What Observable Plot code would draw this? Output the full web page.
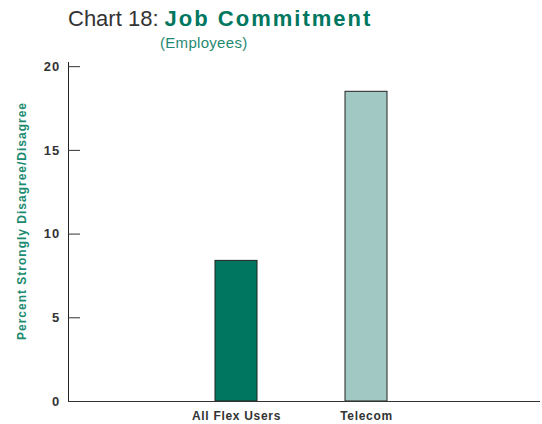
<!DOCTYPE html>
<html>
<head>
<meta charset="utf-8">
<script src="https://cdn.jsdelivr.net/npm/d3@7"></script>
<script src="https://cdn.jsdelivr.net/npm/@observablehq/plot@0.6"></script>
<style>
  body { margin: 0; background: #fff; font-family: "Liberation Sans", Arial, sans-serif; }
  #wrap { position: relative; width: 542px; height: 424px; }
  #title { position: absolute; left: 68px; top: 6px; font-size: 22px; color: #333; white-space: nowrap; }
  #title b { color: #00775f; letter-spacing: 2px; }
  #subtitle { position: absolute; left: 160px; top: 34px; font-size: 15px; color: #1f8a72; letter-spacing: 0.3px; white-space: nowrap; }
  #chart { position: absolute; left: 0; top: 56px; }
  g[aria-label="y-axis tick label"] text { letter-spacing: 1.2px; }
  g[aria-label="x-axis tick label"] text { letter-spacing: 0.7px; }
  g[aria-label="text"] text { letter-spacing: 1px; }
</style>
</head>
<body>
<div id="wrap">
  <div id="title">Chart 18: <b>Job Commitment</b></div>
  <div id="subtitle">(Employees)</div>
  <div id="chart"></div>
</div>
<script>
const categories = ["All Flex Users", "Telecom"];
const values = [8.4, 18.5];
const barColors = ["#00755f", "#a1c8c2"];
const yTicks = [0, 5, 10, 15, 20];
const yLabel = "Percent Strongly Disagree/Disagree";

const data = categories.map((c, i) => ({category: c, value: values[i]}));

const chart = Plot.plot({
  width: 542,
  height: 368,
  marginTop: 6,
  marginBottom: 23,
  marginLeft: 68,
  marginRight: 2,
  style: {fontFamily: "'Liberation Sans', Arial, sans-serif", color: "#333", background: "#fff"},
  x: {domain: categories, range: [125, 476], padding: 0.68, axis: null},
  y: {domain: [0, 20.25], axis: null},
  color: {domain: categories, range: barColors},
  marks: [
    Plot.barY(data, {x: "category", y: "value", fill: "category", stroke: "#222", strokeWidth: 1}),
    Plot.frame({anchor: "left", stroke: "#222"}),
    Plot.ruleY([0], {stroke: "#333"}),
    Plot.axisY(yTicks, {tickSize: 12, dx: 12, tickFormat: () => "", stroke: "#333", label: null}),
    Plot.axisY(yTicks, {tickSize: 0, tickPadding: 8, fontSize: 13, fontWeight: "bold", fill: "#333", label: null}),
    Plot.axisX({tickSize: 0, tickPadding: 10, fontSize: 12, fontWeight: "bold", fill: "#333", label: null}),
    Plot.text([yLabel], {text: d => d, frameAnchor: "left", rotate: -90, dx: -46, dy: -11, fontSize: 12, fontWeight: "bold", fill: "#1a8a70", textAnchor: "middle"})
  ]
});
document.getElementById("chart").appendChild(chart);
</script>
</body>
</html>
